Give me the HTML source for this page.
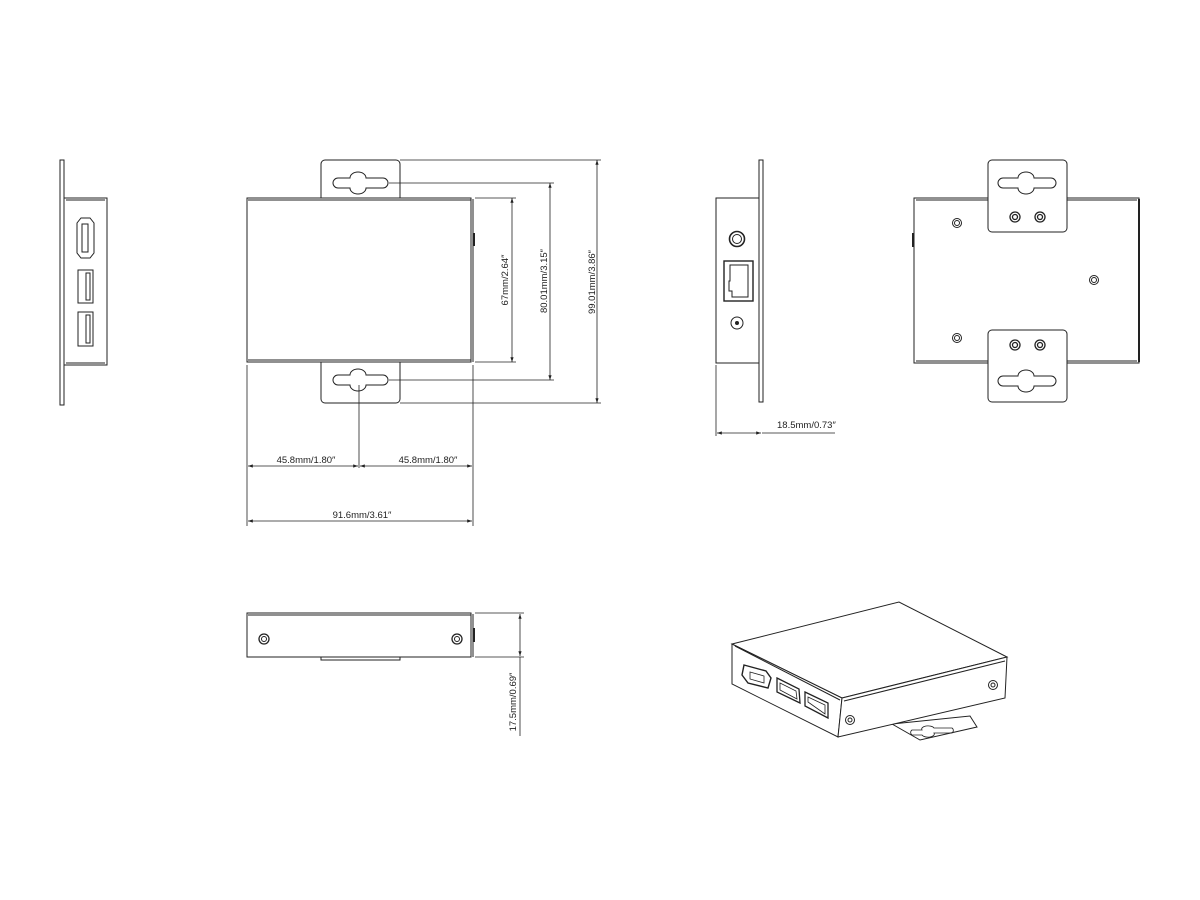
<!DOCTYPE html>
<html><head><meta charset="utf-8"><style>
html,body{margin:0;padding:0;background:#fff;}
svg{display:block;}
text{font-family:"Liberation Sans",sans-serif;font-size:9.5px;fill:#222;stroke:none;}
</style></head><body>
<svg width="1200" height="900" viewBox="0 0 1200 900" xmlns="http://www.w3.org/2000/svg" fill="none" stroke="#222" stroke-width="1">
<defs>
<marker id="a" viewBox="0 0 6 6" refX="6" refY="3" markerWidth="6" markerHeight="6" orient="auto-start-reverse"><path d="M0,1 L6,3 L0,5 z" fill="#222" stroke="none"/></marker>
</defs>

<!-- LEFT SIDE VIEW -->
<rect x="60" y="160" width="4" height="245"/>
<rect x="64" y="198" width="43" height="167"/>
<line x1="66" y1="200" x2="105" y2="200"/>
<line x1="66" y1="363" x2="105" y2="363"/>
<path d="M81,218 h9 l4,5 v30 l-4,5 h-9 l-4,-5 v-30 z"/>
<rect x="82" y="224" width="6" height="28"/>
<rect x="78" y="270" width="15" height="33"/>
<rect x="86" y="273" width="4" height="27"/>
<rect x="78" y="312" width="15" height="34"/>
<rect x="86" y="315" width="4" height="28"/>

<!-- TOP VIEW -->
<path d="M321,198 V164 a4,4 0 0 1 4,-4 H396 a4,4 0 0 1 4,4 V198"/>
<path d="M321,362 V399 a4,4 0 0 0 4,4 H396 a4,4 0 0 0 4,-4 V362"/>
<path d="M338,178 h12 a8,6 0 0 1 16,0 h17 a5,5 0 0 1 0,10 h-17 a8,6 0 0 1 -16,0 h-12 a5,5 0 0 1 0,-10 z"/>
<path d="M338,375 h12 a8,6 0 0 1 16,0 h17 a5,5 0 0 1 0,10 h-17 a8,6 0 0 1 -16,0 h-12 a5,5 0 0 1 0,-10 z"/>
<rect x="247" y="198" width="224" height="164"/>
<line x1="248" y1="200" x2="471" y2="200"/>
<line x1="248" y1="360" x2="471" y2="360"/>
<line x1="473" y1="199" x2="473" y2="362"/>
<line x1="474" y1="233" x2="474" y2="246" stroke-width="2"/>
<!-- vertical dims -->
<line x1="475" y1="198" x2="516" y2="198" stroke-width="0.8"/>
<line x1="475" y1="362" x2="516" y2="362" stroke-width="0.8"/>
<line x1="512" y1="198" x2="512" y2="362" marker-start="url(#a)" marker-end="url(#a)" stroke-width="0.8"/>
<text transform="translate(508,280) rotate(-90)" text-anchor="middle">67mm/2.64″</text>
<line x1="389" y1="183" x2="554" y2="183" stroke-width="0.8"/>
<line x1="389" y1="380" x2="554" y2="380" stroke-width="0.8"/>
<line x1="550" y1="183" x2="550" y2="380" marker-start="url(#a)" marker-end="url(#a)" stroke-width="0.8"/>
<text transform="translate(547,281) rotate(-90)" text-anchor="middle">80.01mm/3.15″</text>
<line x1="400" y1="160" x2="601" y2="160" stroke-width="0.8"/>
<line x1="400" y1="403" x2="601" y2="403" stroke-width="0.8"/>
<line x1="597" y1="160" x2="597" y2="403" marker-start="url(#a)" marker-end="url(#a)" stroke-width="0.8"/>
<text transform="translate(595,282) rotate(-90)" text-anchor="middle">99.01mm/3.86″</text>
<!-- horizontal dims -->
<line x1="247" y1="365" x2="247" y2="526" stroke-width="0.8"/>
<line x1="473" y1="365" x2="473" y2="526" stroke-width="0.8"/>
<line x1="359" y1="385" x2="359" y2="468" stroke-width="0.8"/>
<line x1="248" y1="466" x2="358" y2="466" marker-start="url(#a)" marker-end="url(#a)" stroke-width="0.8"/>
<line x1="360" y1="466" x2="472" y2="466" marker-start="url(#a)" marker-end="url(#a)" stroke-width="0.8"/>
<text x="306" y="463" text-anchor="middle">45.8mm/1.80″</text>
<text x="428" y="463" text-anchor="middle">45.8mm/1.80″</text>
<line x1="248" y1="521" x2="472" y2="521" marker-start="url(#a)" marker-end="url(#a)" stroke-width="0.8"/>
<text x="362" y="518" text-anchor="middle">91.6mm/3.61″</text>

<!-- RIGHT SIDE VIEW -->
<rect x="759" y="160" width="4" height="242"/>
<rect x="716" y="198" width="43" height="165"/>
<circle cx="737" cy="239" r="7.5" stroke-width="1.6"/>
<circle cx="737" cy="239" r="4.5"/>
<rect x="724" y="261" width="29" height="40" stroke-width="1.4"/>
<path d="M730,265 h18 v32 h-16 v-6 h-3 v-10 h1 z"/>
<circle cx="737" cy="323" r="6"/>
<circle cx="737" cy="323" r="1.5" fill="#222"/>
<line x1="716" y1="365" x2="716" y2="436" stroke-width="0.8"/>
<line x1="717" y1="433" x2="761" y2="433" marker-start="url(#a)" marker-end="url(#a)" stroke-width="0.8"/>
<line x1="762" y1="433" x2="835" y2="433" stroke-width="0.8"/>
<text x="777" y="428">18.5mm/0.73″</text>

<!-- BOTTOM VIEW -->
<rect x="914" y="198" width="225" height="165"/>
<line x1="916" y1="200" x2="1137" y2="200"/>
<line x1="916" y1="361" x2="1137" y2="361"/>
<line x1="1139" y1="199" x2="1139" y2="362" stroke-width="2"/>
<line x1="913" y1="233" x2="913" y2="247" stroke-width="2"/>
<rect x="988" y="160" width="79" height="72" rx="4" fill="#fff"/>
<rect x="988" y="330" width="79" height="72" rx="4" fill="#fff"/>
<path d="M1003,178 h15 a8,6 0 0 1 16,0 h17 a5,5 0 0 1 0,10 h-17 a8,6 0 0 1 -16,0 h-15 a5,5 0 0 1 0,-10 z"/>
<path d="M1003,376 h15 a8,6 0 0 1 16,0 h17 a5,5 0 0 1 0,10 h-17 a8,6 0 0 1 -16,0 h-15 a5,5 0 0 1 0,-10 z"/>
<g stroke-width="1.3">
<circle cx="1015" cy="217" r="5"/><circle cx="1015" cy="217" r="2.5"/>
<circle cx="1040" cy="217" r="5"/><circle cx="1040" cy="217" r="2.5"/>
<circle cx="1015" cy="345" r="5"/><circle cx="1015" cy="345" r="2.5"/>
<circle cx="1040" cy="345" r="5"/><circle cx="1040" cy="345" r="2.5"/>
</g>
<circle cx="957" cy="223" r="4.5"/><circle cx="957" cy="223" r="2.5"/>
<circle cx="957" cy="338" r="4.5"/><circle cx="957" cy="338" r="2.5"/>
<circle cx="1094" cy="280" r="4.5"/><circle cx="1094" cy="280" r="2.5"/>

<!-- FRONT (bottom-left) VIEW -->
<rect x="247" y="613" width="224" height="44"/>
<line x1="248" y1="615" x2="471" y2="615"/>
<line x1="473" y1="614" x2="473" y2="657"/>
<line x1="474" y1="628" x2="474" y2="642" stroke-width="2"/>
<rect x="321" y="657" width="79" height="3"/>
<circle cx="264" cy="639" r="5" stroke-width="1.3"/><circle cx="264" cy="639" r="2.5"/>
<circle cx="457" cy="639" r="5" stroke-width="1.3"/><circle cx="457" cy="639" r="2.5"/>
<line x1="475" y1="613" x2="524" y2="613" stroke-width="0.8"/>
<line x1="475" y1="657" x2="524" y2="657" stroke-width="0.8"/>
<line x1="520" y1="614" x2="520" y2="656" marker-start="url(#a)" marker-end="url(#a)" stroke-width="0.8"/>
<line x1="520" y1="657" x2="520" y2="736" stroke-width="0.8"/>
<text transform="translate(516,702) rotate(-90)" text-anchor="middle">17.5mm/0.69″</text>

<!-- ISOMETRIC -->
<path d="M892,724 L970,716 L977,727 L920,740 Z" fill="#fff"/>
<path d="M912,730 h10 a6,3 0 0 1 12,-2 h18 a3,3 0 0 1 0,5 h-18 a6,3 0 0 1 -12,2 h-10 a3,3 0 0 1 0,-5 z" stroke-width="0.8"/>
<path d="M732,644 L899,602 L1007,657 L842,698 Z" fill="#fff"/>
<path d="M732,644 L732,684 L838,737 L842,698 Z" fill="#fff"/>
<path d="M842,698 L1007,657 L1005,698 L838,737 Z" fill="#fff"/>
<line x1="735" y1="646" x2="840" y2="700"/>
<line x1="844" y1="701" x2="1005" y2="661"/>
<path d="M744,665 L766,671 L771,678 L768,688 L748,683 L742,675 Z" stroke-width="1.4"/>
<path d="M750,672 L764,676 L764,683 L750,679 Z" stroke-width="0.8"/>
<path d="M777,678 L799,689 L800,703 L777,692 Z" stroke-width="1.3"/>
<path d="M780,683 L796,691 L797,699 L780,690 Z" stroke-width="0.8"/>
<path d="M805,692 L828,703 L828,718 L805,706 Z" stroke-width="1.3"/>
<path d="M808,697 L825,705 L825,714 L808,702 Z" stroke-width="0.8"/>
<circle cx="850" cy="720" r="4.5"/><circle cx="850" cy="720" r="2"/>
<circle cx="993" cy="685" r="4.5"/><circle cx="993" cy="685" r="2"/>
</svg>
</body></html>
